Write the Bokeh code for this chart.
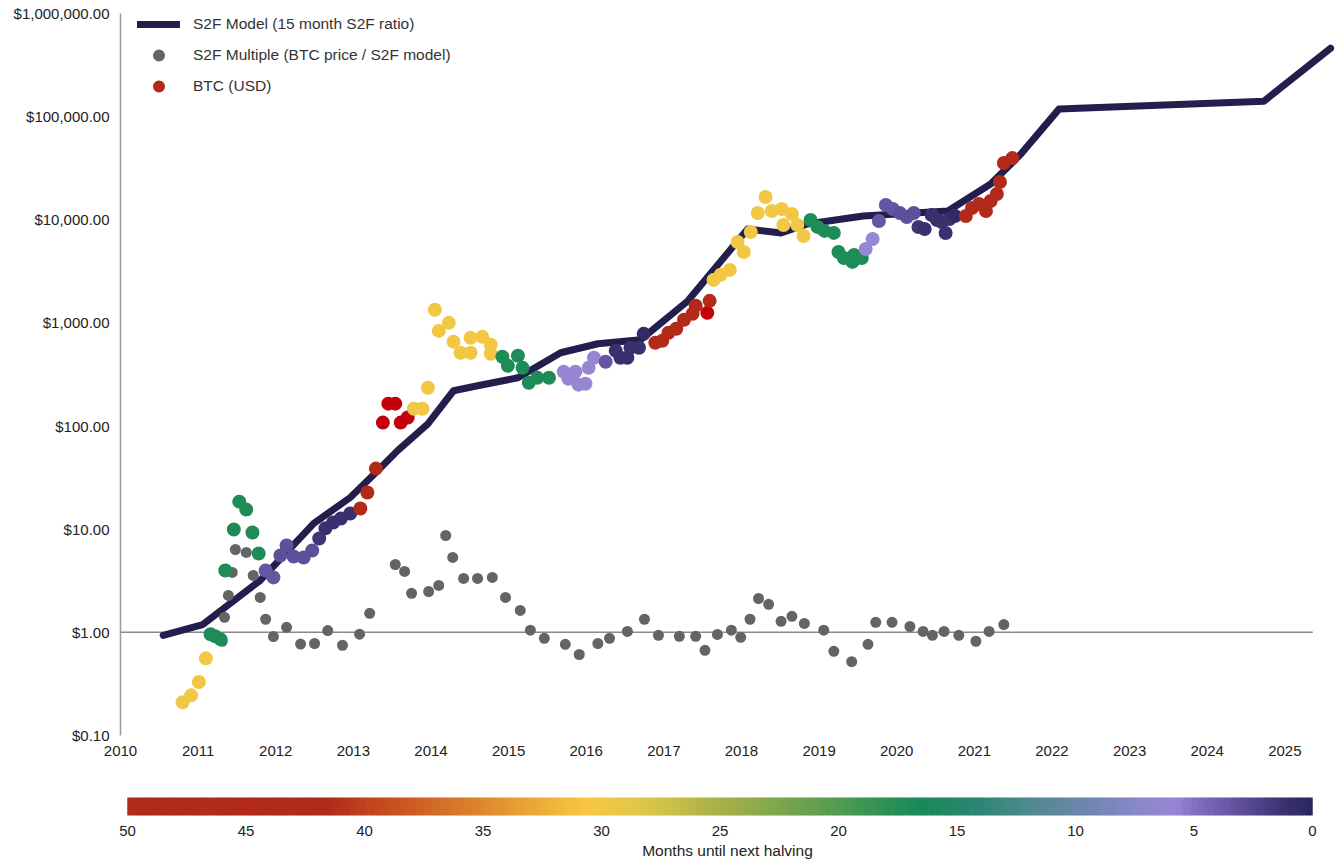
import numpy as np
from bokeh.plotting import figure
from bokeh.models import (Range1d, FixedTicker, NumeralTickFormatter, LinearColorMapper,
                          ColumnDataSource, Legend, LegendItem)
from bokeh.layouts import column
from bokeh.transform import transform
from bokeh.embed import file_html
from bokeh.resources import INLINE

# ---------------- data ----------------
model_year = [2010.55, 2011.06, 2011.80, 2012.49, 2012.96, 2013.29, 2013.57, 2013.96,
              2014.29, 2014.60, 2015.12, 2015.67, 2016.15, 2016.70, 2017.31, 2018.08,
              2018.51, 2018.85, 2019.57, 2020.66, 2021.21, 2021.60, 2022.09, 2024.73, 2025.59]
model_price = [0.935, 1.19, 3.19, 11.4, 20.3, 35.4, 57.8, 105,
               220, 246, 294, 514, 628, 686, 1637, 8150,
               7450, 9100, 10890, 12170, 22230, 43350, 118300, 141300, 460300]

mult_year = [2011.31, 2011.34, 2011.39, 2011.44, 2011.48, 2011.62, 2011.71, 2011.80, 2011.87, 2011.97,
             2012.14, 2012.32, 2012.50, 2012.67, 2012.86, 2013.08, 2013.21, 2013.54, 2013.66, 2013.75,
             2013.97, 2014.10, 2014.19, 2014.28, 2014.42, 2014.60, 2014.79, 2014.96, 2015.15, 2015.28,
             2015.46, 2015.73, 2015.91, 2016.15, 2016.30, 2016.53, 2016.75, 2016.93, 2017.20, 2017.41,
             2017.53, 2017.69, 2017.87, 2017.99, 2018.11, 2018.22, 2018.35, 2018.51, 2018.65, 2018.81,
             2019.06, 2019.19, 2019.42, 2019.63, 2019.73, 2019.94, 2020.17, 2020.34, 2020.46, 2020.61,
             2020.80, 2021.02, 2021.19, 2021.38]
mult_value = [0.82, 1.40, 2.28, 3.81, 6.36, 5.95, 3.56, 2.18, 1.34, 0.91,
              1.12, 0.77, 0.78, 1.04, 0.75, 0.96, 1.53, 4.55, 3.90, 2.39,
              2.49, 2.85, 8.69, 5.32, 3.33, 3.33, 3.41, 2.18, 1.63, 1.05,
              0.875, 0.765, 0.61, 0.78, 0.875, 1.02, 1.34, 0.935, 0.915, 0.915,
              0.67, 0.955, 1.05, 0.895, 1.34, 2.13, 1.87, 1.28, 1.43, 1.22,
              1.05, 0.655, 0.52, 0.765, 1.25, 1.25, 1.14, 1.02, 0.935, 1.02,
              0.935, 0.82, 1.02, 1.19]

btc_year = [2010.80, 2010.91, 2011.01, 2011.10, 2011.16, 2011.22, 2011.29, 2011.35, 2011.46, 2011.53,
            2011.62, 2011.70, 2011.78, 2011.87, 2011.97, 2012.06, 2012.14, 2012.23, 2012.36, 2012.47,
            2012.56, 2012.64, 2012.74, 2012.84, 2012.96, 2013.09, 2013.18, 2013.29, 2013.38, 2013.45,
            2013.54, 2013.61, 2013.70, 2013.78, 2013.89, 2013.96, 2014.05, 2014.10, 2014.23, 2014.29,
            2014.38, 2014.51, 2014.51, 2014.66, 2014.77, 2014.77, 2014.92, 2014.99, 2015.12, 2015.18,
            2015.26, 2015.37, 2015.52, 2015.71, 2015.77, 2015.86, 2015.90, 2015.99, 2016.03, 2016.10,
            2016.25, 2016.38, 2016.44, 2016.53, 2016.57, 2016.68, 2016.74, 2016.89, 2016.98, 2017.06,
            2017.16, 2017.26, 2017.37, 2017.41, 2017.56, 2017.59, 2017.64, 2017.73, 2017.85, 2017.95,
            2018.03, 2018.12, 2018.21, 2018.31, 2018.39, 2018.52, 2018.65, 2018.54, 2018.72, 2018.80,
            2018.89, 2018.98, 2019.07, 2019.19, 2019.25, 2019.32, 2019.43, 2019.45, 2019.55, 2019.60,
            2019.69, 2019.77, 2019.86, 2019.95, 2020.04, 2020.13, 2020.22, 2020.28, 2020.36, 2020.45,
            2020.52, 2020.58, 2020.63, 2020.68, 2020.75, 2020.89, 2020.97, 2021.06, 2021.15, 2021.21,
            2021.29, 2021.33, 2021.38, 2021.49]
btc_price = [0.21, 0.245, 0.33, 0.56, 0.96, 0.915, 0.855, 3.98, 9.93, 18.5,
             15.5, 9.29, 5.82, 3.98, 3.41, 5.56, 6.95, 5.44, 5.32, 6.22,
             8.13, 10.2, 11.6, 12.7, 14.2, 15.9, 22.7, 38.7, 108, 165,
             165, 108, 121, 147, 147, 235, 1340, 837, 1002, 656,
             514, 514, 717, 733, 614, 502, 470, 384, 481, 367,
             263, 294, 294, 336, 288, 336, 252, 257, 367, 459,
             420, 537, 459, 459, 574, 574, 784, 642, 671, 802,
             877, 1072, 1225, 1466, 1253, 1637, 2612, 2924, 3266, 6096,
             4877, 7621, 11640, 16630, 12170, 12710, 11380, 8905, 8905, 6970,
             9960, 8530, 7800, 7460, 4877, 4266, 3906, 4560, 4266, 5212,
             6516, 9730, 13900, 12710, 11640, 10640, 11640, 8510, 8150, 11120,
             9960, 9520, 7450, 10180, 10890, 10890, 13000, 14220, 12170, 15200,
             17780, 23230, 35480, 39630]
btc_months = [30, 30, 30, 30, 17, 17, 17, 17, 17, 17,
              17, 17, 17, 3.5, 3.5, 3, 3, 3, 3, 3,
              1.5, 1, 1, 1, 1, 46, 46, 46, 52, 52,
              52, 52, 52, 30, 30, 30, 30, 30, 30, 30,
              30, 30, 30, 30, 30, 30, 17, 17, 17, 17,
              17, 17, 17, 6, 6, 6, 6, 6, 6, 6,
              3.5, 1, 1, 1, 1, 1, 0.5, 46, 46, 46,
              46, 46, 46, 46, 52, 46, 30, 30, 30, 30,
              30, 30, 30, 30, 30, 30, 30, 30, 30, 30,
              17, 17, 17, 17, 17, 17, 17, 17, 17, 6,
              6, 3.5, 3.5, 3.5, 3, 3, 3, 1.5, 1, 1,
              1, 1, 1, 1, 0.5, 46, 46, 46, 46, 46,
              46, 46, 46, 46]

year_ticks = list(range(2010, 2026))
price_ticks = [0.1, 1, 10, 100, 1000, 10000, 100000, 1000000]
month_ticks = list(range(0, 51, 5))
month_min, month_max = 0, 50
ref_level = 1.0
ref_line_end = 2025.36

# ---------------- style ----------------
FONT = "Liberation Sans"
TXT = "#222222"
NAVY = "#241e4e"
GRAY = "#646464"

stops = [(0, "#2b2660"), (1.2, "#3e3272"), (2.8, "#5c4d98"), (4.5, "#7a68b8"), (5.8, "#9887d4"),
         (7.5, "#8888c6"), (10, "#6a86a8"), (12, "#4f8a8c"), (14, "#2f8575"), (16.6, "#168a58"),
         (21, "#64a050"), (25, "#a8b048"), (27, "#c8c048"), (28.5, "#e2c74a"), (30.7, "#f8c741"),
         (33.5, "#e9a035"), (36, "#d87a2a"), (39, "#c85020"), (41.7, "#b22a1a"), (50, "#b22a1a")]
sm = np.array([s[0] for s in stops], dtype=float)
rgb = np.array([[int(s[1][i:i + 2], 16) for i in (1, 3, 5)] for s in stops], dtype=float)
grid = np.linspace(month_min, month_max, 256)
palette = []
for g in grid:
    r, gg, b = (np.interp(g, sm, rgb[:, k]) for k in range(3))
    palette.append("#%02x%02x%02x" % (int(round(r)), int(round(gg)), int(round(b))))
mapper = LinearColorMapper(palette=palette, low=month_min, high=month_max, high_color="#c4000c")

W = 1336
BL, BR = 120, 2

# ---------------- main figure ----------------
p = figure(width=W, height=770, x_range=Range1d(2010, 2025.64), y_range=Range1d(0.1, 1e6),
           y_axis_type="log", output_backend="svg", toolbar_location=None,
           min_border_left=BL, min_border_right=BR, min_border_top=13, min_border_bottom=35)
p.outline_line_color = None
p.xgrid.visible = False
p.ygrid.visible = False

p.segment(x0=[2010], y0=[ref_level], x1=[ref_line_end], y1=[ref_level],
          line_color="#8a8a8a", line_width=1.5)

line_r = p.line(model_year, model_price, line_width=7, line_color=NAVY,
                line_cap="round", line_join="round")
gray_r = p.scatter(mult_year, mult_value, size=11, fill_color=GRAY, line_color=None)
src = ColumnDataSource(dict(year=btc_year, price=btc_price, months=btc_months))
btc_r = p.scatter("year", "price", source=src, size=14,
                  fill_color=transform("months", mapper), line_color=None)

xa = p.xaxis[0]
xa.ticker = FixedTicker(ticks=year_ticks)
xa.axis_line_color = None
xa.major_tick_line_color = None
xa.minor_tick_line_color = None
xa.major_tick_out = 0
xa.major_label_standoff = 10
xa.major_label_text_font = FONT
xa.major_label_text_font_size = "15px"
xa.major_label_text_color = TXT

ya = p.yaxis[0]
ya.ticker = FixedTicker(ticks=price_ticks)
ya.formatter = NumeralTickFormatter(format="$0,0.00")
ya.axis_line_color = "#9a9a9a"
ya.axis_line_width = 1.5
ya.major_tick_line_color = None
ya.minor_tick_line_color = None
ya.major_tick_out = 0
ya.major_label_standoff = 11
ya.major_label_text_font = FONT
ya.major_label_text_font_size = "15px"
ya.major_label_text_color = TXT

legend = Legend(items=[
    LegendItem(label="S2F Model (15 month S2F ratio)", renderers=[line_r]),
    LegendItem(label="S2F Multiple (BTC price / S2F model)", renderers=[gray_r]),
    LegendItem(label="BTC (USD)", renderers=[btc_r], index=25),
], location=(17, 634))
legend.glyph_width = 43
legend.glyph_height = 30
legend.label_height = 30
legend.spacing = 1
legend.padding = 0
legend.margin = 0
legend.label_standoff = 13
legend.border_line_color = None
legend.background_fill_alpha = 0
legend.label_text_font = FONT
legend.label_text_font_size = "15.5px"
legend.label_text_color = "#333333"
p.add_layout(legend)

# ---------------- colour scale ----------------
# frame spans the same pixels as the main plot; months 50 -> x=127, 0 -> x=1312
px_per_month = (1312 - 127) / 50.0
cb_start = month_max + (127 - BL) / px_per_month
cb_end = month_min - ((W - BR) - 1312) / px_per_month
step = 0.125
cm = (np.arange(int((month_max - month_min) / step)) + 0.5) * step + month_min
cb_src = ColumnDataSource(dict(left=np.maximum(cm - step * 0.6, month_min),
                               right=np.minimum(cm + step * 0.6, month_max), m=cm))
p2 = figure(width=W, height=96, x_range=Range1d(cb_start, cb_end), y_range=Range1d(0, 1),
            output_backend="svg", toolbar_location=None,
            min_border_left=BL, min_border_right=BR, min_border_top=27, min_border_bottom=51)
p2.outline_line_color = None
p2.xgrid.visible = False
p2.ygrid.visible = False
p2.yaxis.visible = False
p2.quad(left="left", right="right", bottom=0, top=1, source=cb_src,
        fill_color=transform("m", mapper), line_color=transform("m", mapper), line_width=0.5)
xa2 = p2.xaxis[0]
xa2.ticker = FixedTicker(ticks=month_ticks)
xa2.axis_line_color = None
xa2.major_tick_line_color = None
xa2.minor_tick_line_color = None
xa2.major_tick_out = 0
xa2.major_label_standoff = 10
xa2.major_label_text_font = FONT
xa2.major_label_text_font_size = "15px"
xa2.major_label_text_color = TXT
xa2.axis_label = "Months until next halving"
xa2.axis_label_standoff = 3
xa2.axis_label_text_font = FONT
xa2.axis_label_text_font_size = "15.5px"
xa2.axis_label_text_font_style = "normal"
xa2.axis_label_text_color = TXT

layout = column(p, p2)
open("out.html", "w").write(file_html(layout, INLINE))
